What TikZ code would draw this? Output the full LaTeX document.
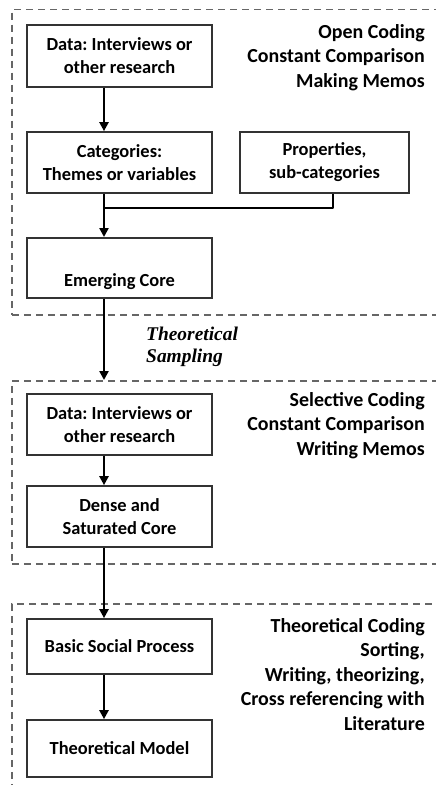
\documentclass[tikz,border=0pt]{standalone}
\usepackage{fontspec}
\setmainfont{Carlito}
\newfontfamily\serifbi{Liberation Serif}
\usetikzlibrary{arrows.meta,calc}
\begin{document}
\frenchspacing
\begin{tikzpicture}[x=1bp,y=-1bp,
  box/.style={draw=black!80, line width=1.7bp, minimum width=185bp, inner sep=3bp, align=center,
    font=\fontsize{18.5}{23}\selectfont\bfseries},
  frame/.style={draw=black!60, line width=1.5bp, dash pattern=on 7bp off 5bp, anchor=north west, inner sep=0pt},
  conn/.style={line width=2.6bp, draw=black},
  arr/.style={conn, -{Triangle[length=9bp,width=9bp]}},
  side/.style={align=right, font=\fontsize{20}{24.5}\selectfont\bfseries, inner sep=0pt, anchor=base east},
]
\clip (0,0) rectangle (436,785);
% dashed frames
\node[frame, minimum width=440bp, minimum height=305bp] (f1) at (11,9) {};
\node[frame, minimum width=440bp, minimum height=183bp] (f2) at (11,380) {};
\node[frame, minimum width=440bp, minimum height=200bp] (f3) at (11,603) {};
% boxes
\node[box, minimum height=62bp] (d1) at (119.5,56) {Data: Interviews or\\other research};
\node[box, minimum height=61bp] (cat) at (119.5,162.5) {Categories:\\Themes or variables};
\node[box, minimum height=61bp, minimum width=169bp] (prop) at (324.5,162.5) {Properties,\\sub-categories};
\node[box, text height=45bp, text depth=7bp, inner ysep=4bp, anchor=north] (em) at (119.5,237) {Emerging Core};
\node[box, minimum height=61bp] (d2) at (119.5,424.5) {Data: Interviews or\\other research};
\node[box, minimum height=61bp] (dense) at (119.5,516.5) {Dense and\\Saturated Core};
\node[box, minimum height=55bp] (bsp) at (119.5,646.5) {Basic Social Process};
\node[box, minimum height=57bp] (model) at (119.5,748.5) {Theoretical Model};
% side texts (anchored at the baseline of their last line)
\node[side] (t1) at (425,87) {Open Coding\\Constant Comparison\\Making Memos};
\node[side] (t2) at (425,455) {Selective Coding\\Constant Comparison\\Writing Memos};
\node[side] (t3) at (425,730) {Theoretical Coding\\Sorting,\\Writing, theorizing,\\Cross referencing with\\Literature};
\node[anchor=base west, align=left, inner sep=0pt,
  font=\serifbi\fontsize{19.5}{22}\selectfont\bfseries\itshape] (ts) at (146,362) {Theoretical\\Sampling};
% connectors
\coordinate (ax) at (104,0);
\coordinate (px) at (333,0);
\coordinate (j) at (104,208);
\draw[arr] (d1.south -| ax) -- (cat.north -| ax);
\draw[conn] (cat.south -| ax) -- (j);
\draw[conn, line join=round] (prop.south -| px) |- (j);
\draw[arr] (j) -- (em.north -| ax);
\draw[arr] (em.south -| ax) -- (f2.north -| ax);
\draw[arr] (d2.south -| ax) -- (dense.north -| ax);
\draw[arr] (dense.south -| ax) -- (bsp.north -| ax);
\draw[arr] (bsp.south -| ax) -- (model.north -| ax);
\end{tikzpicture}
\end{document}
